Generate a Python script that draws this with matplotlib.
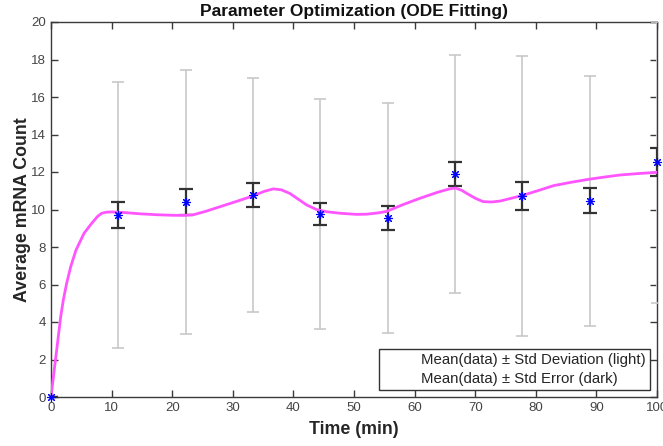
import matplotlib.pyplot as plt
from matplotlib.lines import Line2D

# measured data (time in min)
time_pts = [0, 11.11, 22.22, 33.33, 44.44, 55.56, 66.67, 77.78, 88.89, 100]
mean_vals = [0, 9.7, 10.4, 10.78, 9.76, 9.55, 11.89, 10.72, 10.47, 12.52]
std_err = [0, 0.7, 0.7, 0.63, 0.6, 0.62, 0.62, 0.74, 0.67, 0.75]
std_dev = [0, 7.1, 7.05, 6.22, 6.12, 6.15, 6.33, 7.45, 6.67, 7.5]

# fitted ODE curve
fit_t = [0, 0.27, 0.6, 0.94, 1.27, 1.6, 2.03, 2.58, 3.25, 4.13, 5.45, 6.71, 7.65, 8.36,
         9.2, 10.0, 12.0, 14.7, 17.5, 20.2,
         22.0, 23.5, 25.5, 27.9, 30.5, 33.3, 35.2, 36.7, 38.0, 39.4, 40.8, 42.2,
         43.8, 45.5, 47.7, 50.4, 52.1, 54.0, 55.4, 58.0, 60.9, 63.8, 66.0, 66.8,
         67.8, 68.6, 70.0, 71.3, 72.7, 74.1, 77.7, 80.3, 82.9, 85.8, 88.7, 91.3,
         93.9, 97.0, 100]
fit_y = [0, 0.73, 1.62, 2.51, 3.4, 4.28, 5.17, 6.06, 6.95, 7.84, 8.73, 9.26, 9.62, 9.8,
         9.86, 9.87, 9.84, 9.77, 9.72, 9.69,
         9.69, 9.72, 9.9, 10.15, 10.42, 10.72, 10.97, 11.1, 11.05, 10.86, 10.55, 10.24,
         10.0, 9.88, 9.8, 9.74, 9.75, 9.82, 9.9, 10.25, 10.6, 10.92, 11.12, 11.14,
         11.02, 10.86, 10.6, 10.42, 10.4, 10.45, 10.74, 11.0, 11.27, 11.45, 11.61, 11.73,
         11.84, 11.92, 11.98]

legend_labels = ['Mean(data) ± Std Deviation (light)', 'Mean(data) ± Std Error (dark)']

plt.rcParams['font.family'] = ['Liberation Sans', 'DejaVu Sans']
axis_col = '#3a3a3a'

fig = plt.figure(figsize=(6.63, 4.46), dpi=100)
ax = fig.add_axes([51 / 663, 49 / 446, 606 / 663, 375 / 446])

# light bars go over the box line like in the original
ax.errorbar(time_pts, mean_vals, yerr=std_dev, fmt='none', ecolor='#c8c8c8',
            elinewidth=1.2, capsize=4.3, capthick=1.2, zorder=2.6)
ax.errorbar(time_pts, mean_vals, yerr=std_err, fmt='none', ecolor='#333333',
            elinewidth=1.6, capsize=4.8, capthick=1.6, zorder=3)
ax.plot(fit_t, fit_y, color='#ff55ff', linewidth=2, zorder=4)
ax.plot(time_pts, mean_vals, linestyle='none', marker=(8, 2, 0), markersize=6.5,
        markeredgewidth=0.8, color='#0000ff', zorder=5, clip_on=False)

ax.set_xlim(0, 100)
ax.set_ylim(0, 20)
ax.set_xticks(range(0, 101, 10))
ax.set_yticks(range(0, 21, 2))
ax.tick_params(direction='in', top=True, right=True, length=5, width=1,
               colors=axis_col, labelsize=9.5, labelcolor='#454545')
for s in ax.spines.values():
    s.set_color(axis_col)
    s.set_linewidth(1)

ax.set_xlabel('Time (min)', fontsize=12.8, fontweight='bold', color='#262626', labelpad=5)
ax.set_ylabel('Average mRNA Count', fontsize=12.8, fontweight='bold', color='#262626', labelpad=0)
ax.set_title('Parameter Optimization (ODE Fitting)', fontsize=12.5, fontweight='bold',
             color='#111111', pad=4)

handles = [Line2D([], [], linestyle='none') for _ in legend_labels]
leg = ax.legend(handles, legend_labels, loc='lower right', fontsize=10.8,
                fancybox=False, framealpha=1, edgecolor='#333333',
                handlelength=2.0, handletextpad=0.5, borderpad=0.3,
                labelspacing=0.3, borderaxespad=0.45)
leg.get_frame().set_linewidth(1)
for txt in leg.get_texts():
    txt.set_color('#262626')

fig.savefig('out.png', dpi=100)
